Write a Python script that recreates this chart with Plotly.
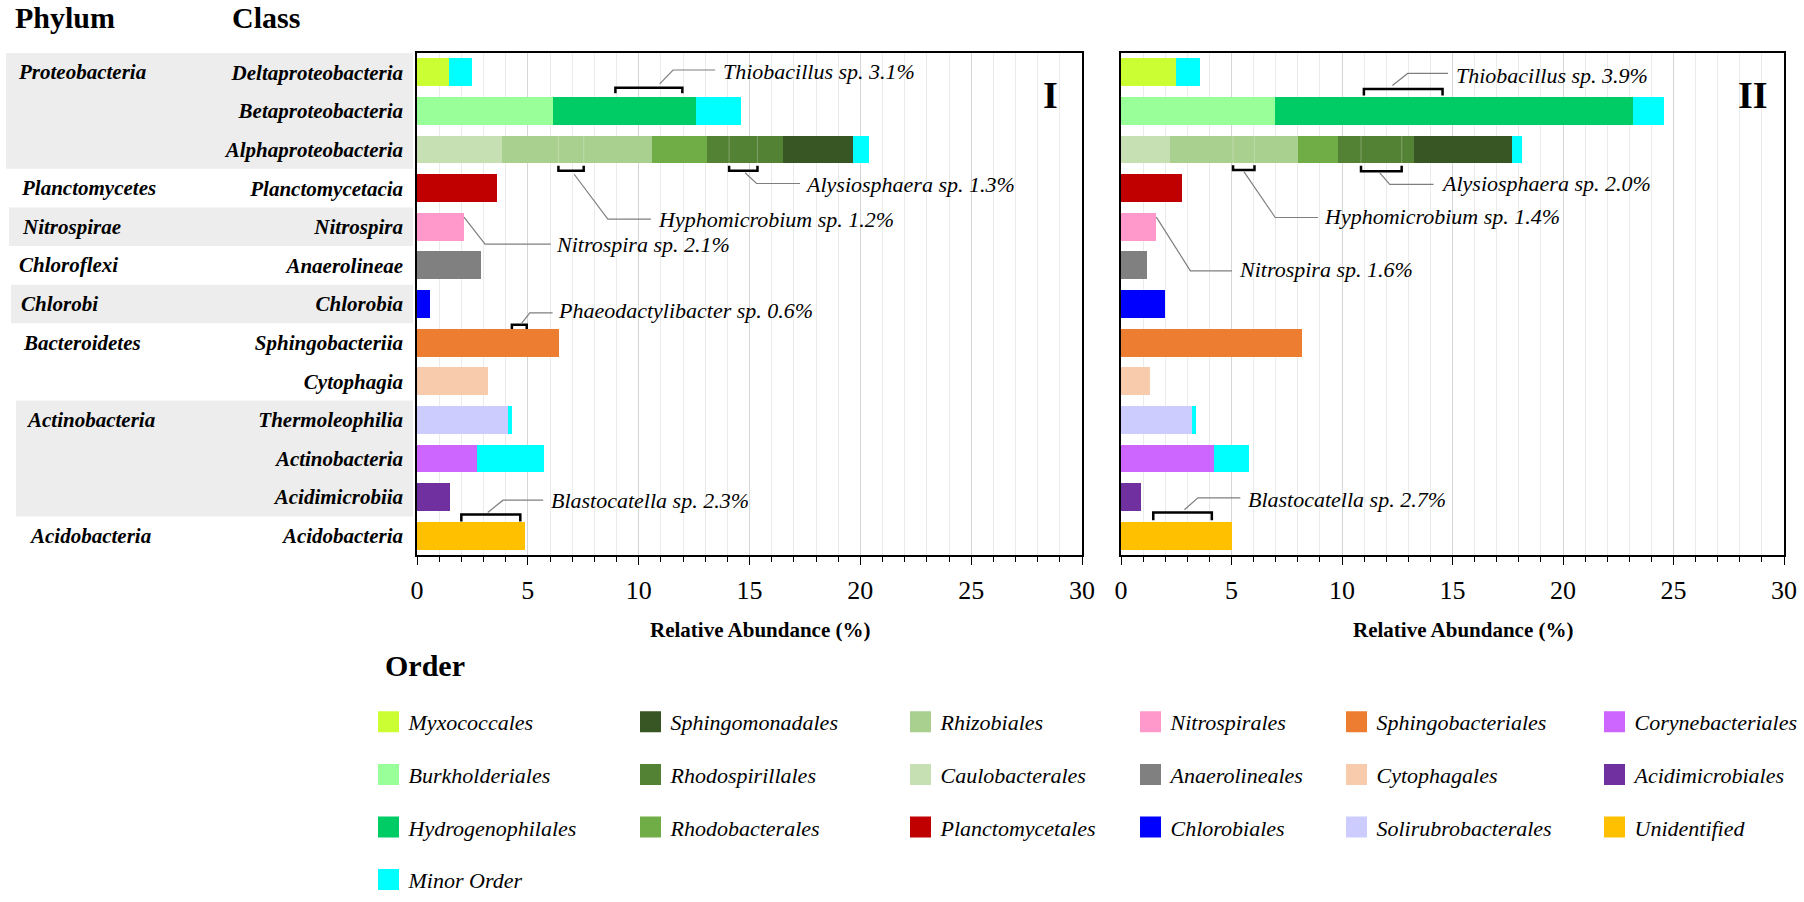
import plotly.graph_objects as go

# ---------------- data ----------------
classes = ["Deltaproteobacteria", "Betaproteobacteria", "Alphaproteobacteria",
           "Planctomycetacia", "Nitrospira", "Anaerolineae", "Chlorobia",
           "Sphingobacteriia", "Cytophagia", "Thermoleophilia", "Actinobacteria",
           "Acidimicrobiia", "Acidobacteria"]
class_phylum = ["Proteobacteria", "Proteobacteria", "Proteobacteria",
                "Planctomycetes", "Nitrospirae", "Chloroflexi", "Chlorobi",
                "Bacteroidetes", "Bacteroidetes", "Actinobacteria", "Actinobacteria",
                "Actinobacteria", "Acidobacteria"]

orders = ["Myxococcales", "Burkholderiales", "Hydrogenophilales", "Caulobacterales",
          "Rhizobiales", "Rhodobacterales", "Rhodospirillales", "Sphingomonadales",
          "Planctomycetales", "Nitrospirales", "Anaerolineales", "Chlorobiales",
          "Sphingobacteriales", "Cytophagales", "Solirubrobacterales",
          "Corynebacteriales", "Acidimicrobiales", "Unidentified"]
order_class = ["Deltaproteobacteria", "Betaproteobacteria", "Betaproteobacteria",
               "Alphaproteobacteria", "Alphaproteobacteria", "Alphaproteobacteria",
               "Alphaproteobacteria", "Alphaproteobacteria", "Planctomycetacia",
               "Nitrospira", "Anaerolineae", "Chlorobia", "Sphingobacteriia",
               "Cytophagia", "Thermoleophilia", "Actinobacteria", "Acidimicrobiia",
               "Acidobacteria"]
# relative abundance (%) of each order, panel I and panel II
order_I = [1.43, 6.12, 6.48, 3.83, 6.77, 2.50, 3.40, 3.17, 3.59, 2.10, 2.90, 0.60,
           6.40, 3.21, 4.10, 2.69, 1.50, 4.88]
order_II = [2.50, 6.98, 16.20, 2.20, 5.79, 1.82, 3.47, 4.39, 2.78, 1.60, 1.18, 2.00,
            8.20, 1.30, 3.22, 4.20, 0.90, 5.00]
# "Minor Order" remainder for each class
minor_I = [1.07, 2.00, 0.73, 0, 0, 0, 0, 0, 0, 0.19, 3.02, 0, 0]
minor_II = [1.09, 1.39, 0.49, 0, 0, 0, 0, 0, 0, 0.18, 1.60, 0, 0]
minor_name = "Minor Order"

# genus call-outs
callout_taxa = ["Thiobacillus", "Hyphomicrobium", "Alysiosphaera", "Nitrospira",
                "Phaeodactylibacter", "Blastocatella"]
callout_class = ["Betaproteobacteria", "Alphaproteobacteria", "Alphaproteobacteria",
                 "Nitrospira", "Sphingobacteriia", "Acidobacteria"]
callout_pct_I = [3.1, 1.2, 1.3, 2.1, 0.6, 2.3]
callout_pct_II = [3.9, 1.4, 2.0, 1.6, None, 2.7]
bracket_I = [(8.95, 11.97), (6.38, 7.52), (14.08, 15.36), None, (4.28, 4.95), (2.00, 4.66)]
bracket_II = [(10.99, 14.55), (5.07, 6.04), (10.86, 12.70), None, None, (1.46, 4.11)]

x_ticks = [0, 5, 10, 15, 20, 25, 30]
panel_names = ["I", "II"]

# ---------------- styles ----------------
order_colors = ["#CCFF33", "#99FF99", "#00CC66", "#C6E0B4", "#A9D08E", "#70AD47",
                "#548235", "#375623", "#C00000", "#FF99CC", "#808080", "#0000FF",
                "#ED7D31", "#F8CBAD", "#CCCCFF", "#CC66FF", "#7030A0", "#FFC000"]
minor_color = "#00FFFF"
legend_columns = [
    ["Myxococcales", "Burkholderiales", "Hydrogenophilales", "Minor Order"],
    ["Sphingomonadales", "Rhodospirillales", "Rhodobacterales"],
    ["Rhizobiales", "Caulobacterales", "Planctomycetales"],
    ["Nitrospirales", "Anaerolineales", "Chlorobiales"],
    ["Sphingobacteriales", "Cytophagales", "Solirubrobacterales"],
    ["Corynebacteriales", "Acidimicrobiales", "Unidentified"],
]
legend_swatch_left_px = [378, 640, 910, 1140, 1346, 1604]

FONT = "Liberation Serif"
W, H = 1804, 902
ML, MR, MT, MB = 417, 20, 53, 347
PW = W - ML - MR
PH = H - MT - MB
BAR_W = 0.72


def pxx(px):
    return (px - ML) / PW


def pxy(py):
    return (H - MB - py) / PH


# call-out geometry (bracket line y, bracket tip y, leader path, text position)
geom_I = [
    dict(yl=0.40, yt=0.54, path=[(10.95, 0.30), (11.55, -0.06), (13.45, -0.06)], tx=13.70, ty=-0.02),
    dict(yl=2.55, yt=2.42, path=[(7.09, 2.64), (8.61, 3.80), (10.55, 3.80)], tx=10.78, ty=3.80),
    dict(yl=2.55, yt=2.42, path=[(14.80, 2.60), (15.32, 2.88), (17.28, 2.88)], tx=17.42, ty=2.90),
    dict(yl=None, yt=None, path=[(2.12, 3.75), (3.07, 4.45), (6.03, 4.45)], tx=6.20, ty=4.47),
    dict(yl=6.54, yt=6.65, path=[(4.69, 6.52), (5.09, 6.23), (6.12, 6.23)], tx=6.29, ty=6.18),
    dict(yl=11.45, yt=11.63, path=[(3.19, 11.40), (3.88, 11.08), (5.69, 11.08)], tx=5.95, ty=11.08),
]
geom_II = [
    dict(yl=0.43, yt=0.60, path=[(12.28, 0.34), (12.97, 0.03), (14.80, 0.03)], tx=15.05, ty=0.07),
    dict(yl=2.53, yt=2.41, path=[(5.56, 2.57), (6.98, 3.76), (8.92, 3.76)], tx=9.10, ty=3.73),
    dict(yl=2.56, yt=2.42, path=[(11.70, 2.60), (12.16, 2.90), (14.14, 2.90)], tx=14.37, ty=2.87),
    dict(yl=None, yt=None, path=[(1.60, 3.75), (3.14, 5.14), (5.02, 5.14)], tx=5.26, ty=5.10),
    None,
    dict(yl=11.40, yt=11.60, path=[(2.87, 11.33), (3.48, 11.02), (5.40, 11.02)], tx=5.66, ty=11.07),
]
# genera whose sub-segment is outlined inside the stacked Alphaproteobacteria bar
inner_marked = ["Hyphomicrobium", "Alysiosphaera"]

fig = go.Figure()
rows = list(range(len(classes)))

panels = [(order_I, minor_I, "x", "y"), (order_II, minor_II, "x2", "y2")]
for p, (vals, minor, xa, ya) in enumerate(panels):
    for o, c, v, col in zip(orders, order_class, vals, order_colors):
        fig.add_trace(go.Bar(
            y=[classes.index(c)], x=[v], orientation="h", width=BAR_W,
            marker=dict(color=col, line=dict(width=0)),
            name=o, legendgroup=o, showlegend=False, xaxis=xa, yaxis=ya,
            customdata=[c], hovertemplate="%{customdata}<br>" + o + ": %{x}%<extra></extra>"))
    fig.add_trace(go.Bar(
        y=rows, x=minor, orientation="h", width=BAR_W,
        marker=dict(color=minor_color, line=dict(width=0)),
        name=minor_name, legendgroup=minor_name, showlegend=False, xaxis=xa, yaxis=ya,
        customdata=classes, hovertemplate="%{customdata}<br>Minor Order: %{x}%<extra></extra>"))

# legend entries (one legend per column)
color_of = dict(zip(orders, order_colors))
color_of[minor_name] = minor_color
for ci, col_items in enumerate(legend_columns):
    lid = "legend" if ci == 0 else "legend%d" % (ci + 1)
    for rank, name in enumerate(col_items):
        c = color_of[name]
        fig.add_trace(go.Scatter(
            x=[None], y=[None], mode="markers", name=name, legendgroup=name,
            legend=lid, legendrank=rank + 1, showlegend=True, hoverinfo="skip",
            marker=dict(symbol="square", size=16, color=c, line=dict(color=c, width=5)),
            xaxis="x", yaxis="y"))

shapes = []
annotations = []

# phylum bands and labels
phyla = []
for ph in class_phylum:
    if ph not in phyla:
        phyla.append(ph)
band_left_px = [6, 9, 11, 16]
phylum_left_px = [16, 19, 20, 17, 19, 21, 24, 27]
bi = 0
for k, ph in enumerate(phyla):
    r = [i for i, q in enumerate(class_phylum) if q == ph]
    if k % 2 == 0:
        shapes.append(dict(type="rect", xref="paper", yref="y",
                           x0=pxx(band_left_px[bi]), x1=pxx(413),
                           y0=min(r) - 0.5, y1=max(r) + 0.5,
                           fillcolor="#EDEDED", line=dict(width=0), layer="below"))
        bi += 1
    annotations.append(dict(xref="paper", yref="y", x=pxx(phylum_left_px[k]), y=min(r),
                            text="<b><i>%s</i></b>" % ph, showarrow=False,
                            xanchor="left", yanchor="middle",
                            font=dict(family=FONT, size=21, color="black")))

# call-outs
for pct_list, brk_list, geom, xa, ya in [(callout_pct_I, bracket_I, geom_I, "x", "y"),
                                          (callout_pct_II, bracket_II, geom_II, "x2", "y2")]:
    for taxon, cls, pct, brk, g in zip(callout_taxa, callout_class, pct_list, brk_list, geom):
        if pct is None or g is None:
            continue
        if brk is not None:
            x0, x1 = brk
            shapes.append(dict(type="path", xref=xa, yref=ya,
                               path="M %f,%f L %f,%f L %f,%f L %f,%f" % (
                                   x0, g["yt"], x0, g["yl"], x1, g["yl"], x1, g["yt"]),
                               line=dict(color="black", width=2.5)))
            if taxon in inner_marked:
                r = classes.index(cls)
                for xv in (x0, x1):
                    shapes.append(dict(type="line", xref=xa, yref=ya, x0=xv, x1=xv,
                                       y0=r - BAR_W / 2, y1=r + BAR_W / 2,
                                       line=dict(color="rgba(255,255,255,0.22)", width=1.2)))
        pth = g["path"]
        shapes.append(dict(type="path", xref=xa, yref=ya,
                           path="M " + " L ".join("%f,%f" % pt for pt in pth),
                           line=dict(color="#7F7F7F", width=1.2)))
        annotations.append(dict(xref=xa, yref=ya, x=g["tx"], y=g["ty"],
                                text="<i>%s sp. %.1f%%</i>" % (taxon, pct),
                                showarrow=False, xanchor="left", yanchor="middle",
                                font=dict(family=FONT, size=22, color="black")))

# panel numerals and axis titles
for name, xa, ya in zip(panel_names, ["x", "x2"], ["y", "y2"]):
    annotations.append(dict(xref=xa, yref=ya, x=28.6, y=0.58, text="<b>%s</b>" % name,
                            showarrow=False, xanchor="center", yanchor="middle",
                            font=dict(family=FONT, size=38, color="black")))
    annotations.append(dict(xref=xa, yref="paper", x=15.5, y=pxy(630),
                            text="<b>Relative Abundance (%)</b>", showarrow=False,
                            xanchor="center", yanchor="middle",
                            font=dict(family=FONT, size=21, color="black")))

# headers
for txt, px, py in [("Phylum", 13, 17), ("Class", 230, 17), ("Order", 383, 665)]:
    annotations.append(dict(xref="paper", yref="paper", x=pxx(px), y=pxy(py),
                            text="<b>%s</b>" % txt, showarrow=False,
                            xanchor="left", yanchor="middle",
                            font=dict(family=FONT, size=30, color="black")))

xaxis_common = dict(
    range=[0, 30], tickmode="array", tickvals=x_ticks, ticktext=[str(t) for t in x_ticks],
    ticks="outside", ticklen=8, tickwidth=1.3, tickcolor="black",
    showline=True, linecolor="black", linewidth=1.5, mirror=True,
    showgrid=True, gridcolor="#D6D6D6", gridwidth=1.3, zeroline=False,
    tickfont=dict(family=FONT, size=26, color="black"), ticklabelstandoff=3,
    minor=dict(dtick=1, tick0=0, ticks="outside", ticklen=5, tickwidth=1.1,
               tickcolor="black", showgrid=True, gridcolor="#EBEBEB", gridwidth=1),
    fixedrange=True)

yaxis_common = dict(range=[len(classes) - 0.5, -0.5], showgrid=False, zeroline=False,
                    showline=True, linecolor="black", linewidth=1.5, mirror=True,
                    fixedrange=True)

fig.update_layout(
    width=W, height=H, barmode="stack", bargap=0,
    margin=dict(l=ML, r=MR, t=MT, b=MB, autoexpand=False),
    paper_bgcolor="white", plot_bgcolor="white",
    font=dict(family=FONT, color="black"),
    xaxis=dict(domain=[0, 665 / PW], anchor="y", **xaxis_common),
    xaxis2=dict(domain=[(1121 - ML) / PW, 1], anchor="y2", **xaxis_common),
    yaxis=dict(anchor="x", tickmode="array", tickvals=rows, ticktext=classes,
               ticks="", ticklabelstandoff=8,
               tickfont=dict(family=FONT, size=21, color="black", weight="bold", style="italic"),
               **yaxis_common),
    yaxis2=dict(anchor="x2", matches="y", showticklabels=False, ticks="", **yaxis_common),
    shapes=shapes, annotations=annotations, showlegend=True,
)

for ci in range(len(legend_columns)):
    key = "legend" if ci == 0 else "legend%d" % (ci + 1)
    fig.update_layout({key: dict(
        x=pxx(legend_swatch_left_px[ci] - 9.5), y=pxy(701), xanchor="left", yanchor="top",
        orientation="v", traceorder="grouped", tracegroupgap=21, itemwidth=30,
        bgcolor="rgba(0,0,0,0)", borderwidth=0, itemclick=False, itemdoubleclick=False,
        font=dict(family=FONT, size=22, color="black", style="italic"))})

fig.write_html("out.html", config={"displayModeBar": False},
               post_script="document.body.style.margin='0px';"
                           "document.body.style.overflow='hidden';")
